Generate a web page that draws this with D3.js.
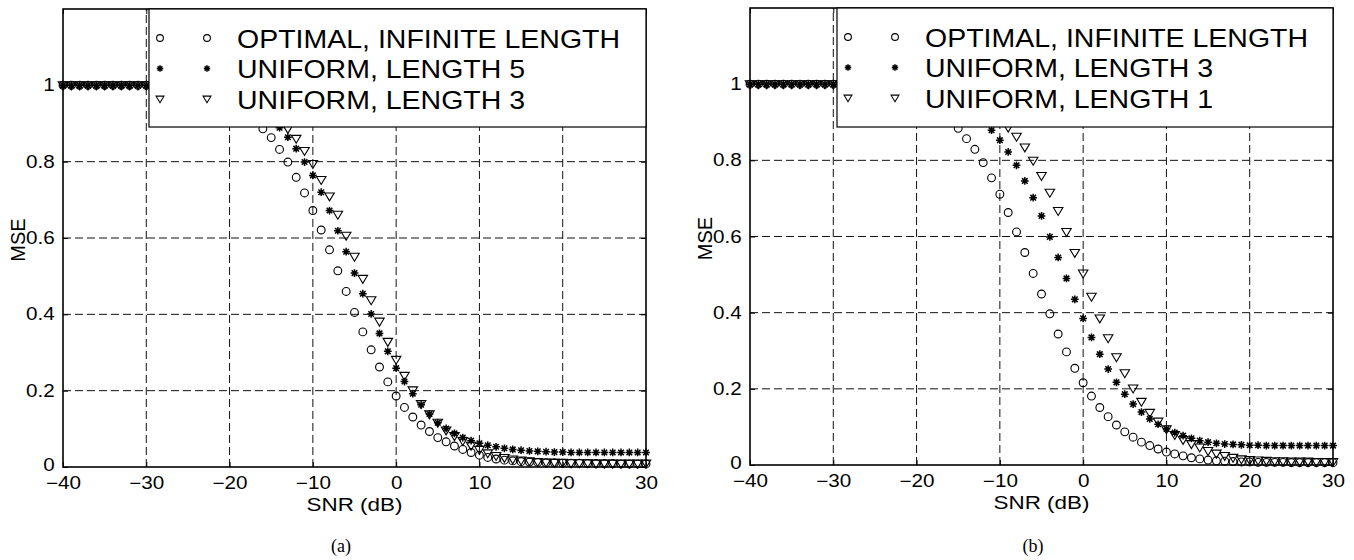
<!DOCTYPE html>
<html>
<head>
<meta charset="utf-8">
<script src="https://cdn.jsdelivr.net/npm/d3@7"></script>
<style>
  body { margin: 0; background: #fff; }
  svg text { font-family: "Liberation Sans", Arial, sans-serif; fill: #000; }
</style>
</head>
<body>
<svg id="chart" width="1354" height="560"></svg>
<script>
// SNR grid (dB), one point per dB
const snrDb = [-40, -39, -38, -37, -36, -35, -34, -33, -32, -31,
  -30, -29, -28, -27, -26, -25, -24, -23, -22, -21,
  -20, -19, -18, -17, -16, -15, -14, -13, -12, -11,
  -10, -9, -8, -7, -6, -5, -4, -3, -2, -1,
  0, 1, 2, 3, 4, 5, 6, 7, 8, 9,
  10, 11, 12, 13, 14, 15, 16, 17, 18, 19,
  20, 21, 22, 23, 24, 25, 26, 27, 28, 29, 30];

const xTicks = [-40, -30, -20, -10, 0, 10, 20, 30];
const yTicks = [0, 0.2, 0.4, 0.6, 0.8, 1];
const xGrid = [-30, -20, -10, 0, 10, 20];
const yGrid = [0.2, 0.4, 0.6, 0.8, 1];

// panel (a)
const legendA = ["OPTIMAL, INFINITE LENGTH", "UNIFORM, LENGTH 5", "UNIFORM, LENGTH 3"];
const optimalA = [1, 1, 1, 1, 1, 1, 1, 1, 1, 1,
  1, 1, 1, 1, 1, 0.998, 0.995, 0.99, 0.983, 0.974,
  0.963, 0.95, 0.933, 0.911, 0.886, 0.863, 0.832, 0.799, 0.759, 0.718,
  0.672, 0.621, 0.569, 0.514, 0.46, 0.405, 0.354, 0.307, 0.262, 0.223,
  0.186, 0.156, 0.131, 0.11, 0.093, 0.077, 0.066, 0.055, 0.046, 0.038,
  0.031, 0.025, 0.021, 0.018, 0.016, 0.014, 0.013, 0.012, 0.011, 0.011,
  0.01, 0.01, 0.01, 0.009, 0.009, 0.009, 0.009, 0.008, 0.008, 0.008, 0.008];
const len5A = [1, 1, 1, 1, 1, 1, 1, 1, 1, 1,
  1, 1, 1, 1, 1, 0.999, 0.998, 0.995, 0.992, 0.987,
  0.98, 0.971, 0.96, 0.946, 0.93, 0.911, 0.889, 0.864, 0.834, 0.799,
  0.764, 0.72, 0.672, 0.619, 0.564, 0.508, 0.454, 0.401, 0.35, 0.303,
  0.259, 0.224, 0.192, 0.163, 0.139, 0.116, 0.101, 0.088, 0.077, 0.069,
  0.062, 0.057, 0.053, 0.049, 0.046, 0.044, 0.042, 0.041, 0.04, 0.039,
  0.039, 0.038, 0.038, 0.038, 0.038, 0.038, 0.038, 0.038, 0.038, 0.038, 0.038];
const len3A = [1, 1, 1, 1, 1, 1, 1, 1, 1, 1,
  1, 1, 1, 1, 1, 1, 0.999, 0.998, 0.996, 0.993,
  0.988, 0.981, 0.972, 0.961, 0.947, 0.93, 0.91, 0.886, 0.86, 0.828,
  0.794, 0.752, 0.709, 0.661, 0.606, 0.551, 0.493, 0.437, 0.381, 0.328,
  0.281, 0.239, 0.201, 0.165, 0.138, 0.116, 0.096, 0.081, 0.068, 0.056,
  0.045, 0.036, 0.029, 0.024, 0.02, 0.017, 0.015, 0.013, 0.012, 0.011,
  0.011, 0.01, 0.01, 0.01, 0.009, 0.009, 0.009, 0.009, 0.009, 0.009, 0.009];

// panel (b)
const legendB = ["OPTIMAL, INFINITE LENGTH", "UNIFORM, LENGTH 3", "UNIFORM, LENGTH 1"];
const optimalB = [1, 1, 1, 1, 1, 1, 1, 1, 1, 1,
  1, 1, 1, 1, 1, 0.999, 0.997, 0.994, 0.99, 0.984,
  0.976, 0.965, 0.95, 0.93, 0.908, 0.884, 0.857, 0.829, 0.794, 0.754,
  0.711, 0.663, 0.612, 0.558, 0.503, 0.449, 0.397, 0.344, 0.297, 0.254,
  0.216, 0.181, 0.151, 0.127, 0.105, 0.087, 0.073, 0.06, 0.051, 0.042,
  0.034, 0.029, 0.024, 0.019, 0.016, 0.013, 0.011, 0.01, 0.009, 0.008,
  0.008, 0.007, 0.007, 0.007, 0.007, 0.006, 0.006, 0.006, 0.006, 0.006, 0.006];
const len3B = [1, 1, 1, 1, 1, 1, 1, 1, 1, 1,
  1, 1, 1, 1, 1, 1, 0.999, 0.997, 0.995, 0.992,
  0.987, 0.981, 0.974, 0.966, 0.957, 0.946, 0.933, 0.918, 0.9, 0.879,
  0.853, 0.822, 0.787, 0.746, 0.702, 0.654, 0.599, 0.545, 0.49, 0.435,
  0.385, 0.335, 0.291, 0.252, 0.217, 0.186, 0.16, 0.139, 0.121, 0.107,
  0.095, 0.085, 0.077, 0.07, 0.064, 0.06, 0.057, 0.055, 0.054, 0.053,
  0.052, 0.052, 0.051, 0.051, 0.051, 0.051, 0.051, 0.051, 0.051, 0.051, 0.051];
const len1B = [1, 1, 1, 1, 1, 1, 1, 1, 1, 1,
  1, 1, 1, 1, 1, 1, 1, 1, 0.999, 0.998,
  0.996, 0.994, 0.991, 0.987, 0.981, 0.974, 0.965, 0.954, 0.941, 0.925,
  0.906, 0.886, 0.862, 0.834, 0.799, 0.759, 0.715, 0.667, 0.612, 0.557,
  0.503, 0.442, 0.385, 0.333, 0.283, 0.241, 0.201, 0.166, 0.137, 0.114,
  0.094, 0.079, 0.066, 0.055, 0.046, 0.037, 0.03, 0.024, 0.019, 0.015,
  0.013, 0.012, 0.011, 0.01, 0.01, 0.009, 0.009, 0.009, 0.008, 0.008, 0.008];

const kStretch = 1.18;   // the scanned lettering is wider than Liberation Sans

// marker shapes (MATLAB 'o', '*', 'v')
const asterisk = {
  draw(ctx, size) {
    const r = Math.sqrt(size) / 2, d = r * 0.72;
    ctx.moveTo(-r, 0); ctx.lineTo(r, 0);
    ctx.moveTo(0, -r); ctx.lineTo(0, r);
    ctx.moveTo(-d, -d); ctx.lineTo(d, d);
    ctx.moveTo(-d, d); ctx.lineTo(d, -d);
  }
};
const triDown = {
  draw(ctx, size) {
    const r = Math.sqrt(size) / 2;
    ctx.moveTo(-r, -r * 0.72);
    ctx.lineTo(r, -r * 0.72);
    ctx.lineTo(0, r * 0.95);
    ctx.closePath();
  }
};

const markers = [
  { type: d3.symbolCircle, size: 48, legendSize: 36, width: 1.1 },
  { type: asterisk, size: 60, legendSize: 42, width: 1.5 },
  { type: triDown, size: 90, legendSize: 62, width: 1.1 }
];

const panels = [
  { left: 63, right: 646, bottom: 467, top: 9, legendLeft: 149, legendBottom: 127,
    series: [optimalA, len5A, len3A], names: legendA, tag: "(a)", tagX: 341 },
  { left: 750, right: 1333, bottom: 465, top: 8, legendLeft: 837, legendBottom: 127,
    series: [optimalB, len3B, len1B], names: legendB, tag: "(b)", tagX: 1033 }
];

const svg = d3.select("#chart");

function fmtX(d) {
  return d < 0 ? "\u2212" + Math.abs(d) : String(d);
}

function drawPanel(p)
{
  const g = svg.append("g");

  const x = d3.scaleLinear().domain([-40, 30]).range([p.left, p.right]);
  const y = d3.scaleLinear().domain([0, 1.2]).range([p.bottom, p.top]);

  // dashed grid
  g.selectAll(".vgrid").data(xGrid).enter().append("line")
    .attr("x1", d => x(d)).attr("x2", d => x(d))
    .attr("y1", y(0)).attr("y2", y(1.2))
    .attr("stroke", "#111").attr("stroke-width", 1)
    .attr("stroke-dasharray", "8,4");
  g.selectAll(".hgrid").data(yGrid).enter().append("line")
    .attr("x1", x(-40)).attr("x2", x(30))
    .attr("y1", d => y(d)).attr("y2", d => y(d))
    .attr("stroke", "#111").attr("stroke-width", 1)
    .attr("stroke-dasharray", "8,4");

  // axes with inward ticks
  const xAxis = g.append("g")
    .attr("transform", `translate(0,${p.bottom})`)
    .call(d3.axisBottom(x).tickValues(xTicks).tickSize(-5).tickPadding(10).tickFormat(fmtX));
  const yAxis = g.append("g")
    .attr("transform", `translate(${p.left},0)`)
    .call(d3.axisLeft(y).tickValues(yTicks).tickSize(-5).tickPadding(7).tickFormat(d => d3.format("")(d)));
  g.append("g")
    .attr("transform", `translate(0,${p.top})`)
    .call(d3.axisTop(x).tickValues(xTicks).tickSize(-5).tickFormat(""));
  g.append("g")
    .attr("transform", `translate(${p.right},0)`)
    .call(d3.axisRight(y).tickValues(yTicks).tickSize(-5).tickFormat(""));

  g.selectAll(".domain").remove();
  g.selectAll(".tick line").attr("stroke", "#000");
  [xAxis, yAxis].forEach(a => a.selectAll("text")
    .attr("font-family", "Liberation Sans, Arial, sans-serif")
    .attr("font-size", 17.5)
    .attr("fill", "#000")
    .attr("transform", `scale(${kStretch},1)`));
  // the bottom y label sits a little higher, clear of the x labels
  yAxis.selectAll("text").filter(d => d === 0).attr("dy", "0.2em");

  // frame
  g.append("rect")
    .attr("x", p.left).attr("y", p.top)
    .attr("width", p.right - p.left).attr("height", p.bottom - p.top)
    .attr("fill", "none").attr("stroke", "#000").attr("stroke-width", 1.6);

  // data markers
  p.series.forEach((vals, k) => {
    const m = markers[k];
    const sym = d3.symbol().type(m.type).size(m.size);
    g.append("g").selectAll("path")
      .data(snrDb.map((s, i) => [s, vals[i]]))
      .enter().append("path")
      .attr("d", sym)
      .attr("transform", d => `translate(${x(d[0])},${y(d[1])})`)
      .attr("fill", "none")
      .attr("stroke", "#000")
      .attr("stroke-width", m.width);
  });

  // legend box
  const lg = g.append("g");
  lg.append("rect")
    .attr("x", p.legendLeft).attr("y", p.top)
    .attr("width", p.right - p.legendLeft).attr("height", p.legendBottom - p.top)
    .attr("fill", "#fff").attr("stroke", "#000").attr("stroke-width", 1.2);
  p.names.forEach((name, k) => {
    const m = markers[k];
    const cy = p.top + 29 + k * 30.5;
    const sym = d3.symbol().type(m.type).size(m.legendSize);
    [11, 58].forEach(dx => {
      lg.append("path")
        .attr("d", sym)
        .attr("transform", `translate(${p.legendLeft + dx},${cy})`)
        .attr("fill", "none").attr("stroke", "#000").attr("stroke-width", m.width);
    });
    lg.append("text")
      .attr("transform", `translate(${p.legendLeft + 88},${cy + 9.5}) scale(1.14,1)`)
      .attr("font-size", 25)
      .text(name);
  });

  // axis titles
  g.append("text")
    .attr("transform", `translate(${(p.left + p.right) / 2},${p.bottom + 44}) scale(${kStretch},1)`)
    .attr("text-anchor", "middle")
    .attr("font-size", 19)
    .text("SNR (dB)");
  g.append("text")
    .attr("transform", `translate(${p.left - 38},${(p.top + p.bottom) / 2 + 2}) rotate(-90)`)
    .attr("text-anchor", "middle")
    .attr("font-size", 20)
    .text("MSE");

  // panel tag
  g.append("text")
    .attr("x", p.tagX).attr("y", 552)
    .attr("text-anchor", "middle")
    .style("font-family", "'Liberation Serif', 'Times New Roman', serif")
    .attr("font-size", 18)
    .text(p.tag);
}

panels.forEach(drawPanel);
</script>
</body>
</html>
